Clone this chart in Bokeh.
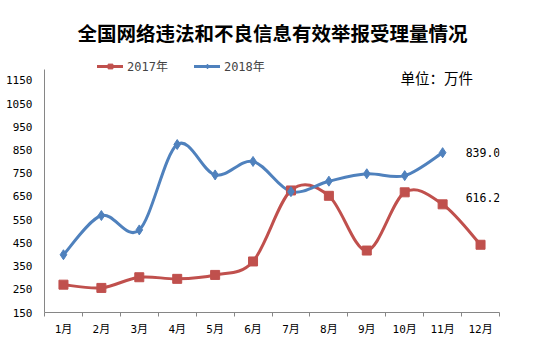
from bokeh.plotting import figure
from bokeh.models import Range1d, FixedTicker, Label, Legend, LegendItem
from bokeh.embed import file_html
from bokeh.resources import INLINE

# ---- data ----
months = ["1月", "2月", "3月", "4月", "5月", "6月", "7月", "8月", "9月", "10月", "11月", "12月"]
v2017 = [270, 256, 302, 295, 312, 370, 676, 653, 417, 668, 616.2, 442]
v2018 = [399, 568, 506, 874, 743, 801, 671, 716, 748, 740, 839.0]
y_ticks = [150, 250, 350, 450, 550, 650, 750, 850, 950, 1050, 1150]
title_text = "全国网络违法和不良信息有效举报受理量情况"
unit_text = "单位：万件"

RED = "#C0504D"
BLUE = "#4F81BD"
AXIS = "#868686"
NUM_FONT = "'DejaVu Sans Mono', 'Noto Sans CJK SC'"
CJK_FONT = "'Noto Sans CJK SC'"


def smooth(xs, ys, t=1.0):
    n = len(xs)
    d = dict(x0=[], y0=[], x1=[], y1=[], cx0=[], cy0=[], cx1=[], cy1=[])
    for i in range(n - 1):
        a = i - 1 if i > 0 else i
        b = i + 2 if i + 2 < n else i + 1
        d["x0"].append(xs[i]); d["y0"].append(ys[i])
        d["x1"].append(xs[i + 1]); d["y1"].append(ys[i + 1])
        d["cx0"].append(xs[i] + (xs[i + 1] - xs[a]) / 6 * t)
        d["cy0"].append(ys[i] + (ys[i + 1] - ys[a]) / 6 * t)
        d["cx1"].append(xs[i + 1] - (xs[b] - xs[i]) / 6 * t)
        d["cy1"].append(ys[i + 1] - (ys[b] - ys[i]) / 6 * t)
    return d


x17 = list(range(1, len(v2017) + 1))
x18 = list(range(1, len(v2018) + 1))

Y_MIN, Y_AXIS_TOP, Y_MAX = 150, 1197, 1494.8

p = figure(width=533, height=363, output_backend="svg", toolbar_location=None,
           x_range=Range1d(0.5, 12.5), y_range=Range1d(Y_MIN, Y_MAX),
           min_border_left=44, min_border_right=34, min_border_top=0, min_border_bottom=51)
p.outline_line_color = None
p.grid.grid_line_color = None
p.background_fill_color = "white"

# axes
xa = p.xaxis[0]
xa.ticker = FixedTicker(ticks=x17, minor_ticks=[i + 0.5 for i in range(0, 13)])
xa.major_label_overrides = {x: m for x, m in zip(x17, months)}
xa.major_tick_line_color = None
xa.major_tick_out = 0
xa.minor_tick_in = 0
xa.minor_tick_out = 4
xa.minor_tick_line_color = AXIS
xa.axis_line_color = AXIS
xa.major_label_standoff = 6
xa.major_label_text_font = NUM_FONT
xa.major_label_text_font_size = "11px"
xa.major_label_text_color = "black"

ya = p.yaxis[0]
ya.ticker = FixedTicker(ticks=y_ticks)
ya.bounds = (Y_MIN, Y_AXIS_TOP)
ya.major_tick_line_color = None
ya.minor_tick_line_color = None
ya.major_tick_out = 0
ya.axis_line_color = AXIS
ya.major_label_standoff = 12
ya.major_label_text_font = NUM_FONT
ya.major_label_text_font_size = "11px"
ya.major_label_text_color = "black"

# curves
curves = []
for xs, ys, col in ((x17, v2017, RED), (x18, v2018, BLUE)):
    curves.append(p.bezier(source=smooth(xs, ys), x0="x0", y0="y0", x1="x1", y1="y1",
                           cx0="cx0", cy0="cy0", cx1="cx1", cy1="cy1",
                           line_color=col, line_width=3, line_cap="round"))

s17 = p.scatter(x17, v2017, marker="square", size=9, fill_color=RED, line_color=RED)
s18 = p.scatter(x18, v2018, marker="diamond", size=10, fill_color=BLUE, line_color=BLUE)

legend = Legend(items=[LegendItem(label="2017年", renderers=[curves[0], s17], index=0),
                       LegendItem(label="2018年", renderers=[curves[1], s18], index=0)],
                orientation="horizontal", location=(53, 238),
                glyph_width=26, glyph_height=12, label_standoff=4, spacing=26,
                padding=0, margin=0, border_line_color=None, background_fill_alpha=0,
                label_text_font=NUM_FONT, label_text_font_size="12px",
                label_height=14)
p.add_layout(legend)

# data labels
p.add_layout(Label(x=x18[-1], y=v2018[-1], text=f"{v2018[-1]:.1f}", x_offset=23, y_offset=0,
                   text_align="left", text_baseline="middle", text_font=NUM_FONT,
                   text_font_size="11.5px", text_color="black"))
p.add_layout(Label(x=x17[10], y=v2017[10], text=f"{v2017[10]:.1f}", x_offset=23, y_offset=7,
                   text_align="left", text_baseline="middle", text_font=NUM_FONT,
                   text_font_size="11.5px", text_color="black"))

# title and unit
p.add_layout(Label(x=228, y=280, x_units="screen", y_units="screen", text=title_text,
                   text_align="center", text_baseline="middle", text_font=CJK_FONT,
                   text_font_size="19.5px", text_font_style="bold", text_color="black"))
p.add_layout(Label(x=356, y=235, x_units="screen", y_units="screen", text=unit_text,
                   text_align="left", text_baseline="middle", text_font=CJK_FONT,
                   text_font_size="14.5px", text_color="black"))

open("out.html", "w").write(file_html(p, INLINE))
